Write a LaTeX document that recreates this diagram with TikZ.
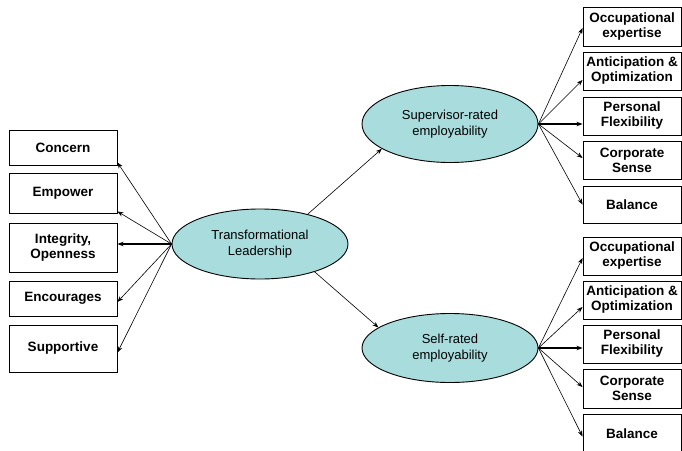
\documentclass[tikz,border=0pt]{standalone}
\usepackage{fontspec}
\setmainfont{Liberation Sans}
\usetikzlibrary{shapes.geometric,arrows.meta}
\definecolor{latentfill}{RGB}{168,220,221}

\begin{document}
\begin{tikzpicture}
[every node/.style={inner sep=0pt},
 ind/.style={rectangle, draw=black, line width=0.9pt, fill=white, align=center, font=\fontsize{13.5}{15}\selectfont\bfseries},
 lftind/.style={ind, minimum width=108pt},
 rgtind/.style={ind, minimum width=98pt},
 lat/.style={ellipse, draw=black, line width=0.9pt, fill=latentfill, minimum width=176pt, align=center, font=\fontsize{13}{16}\selectfont},
 load/.style={line width=0.6pt, -{Stealth[length=6pt, width=4.5pt]}},
 mainload/.style={line width=1.6pt, -{Stealth[length=6pt, width=4.5pt]}}]
\useasboundingbox (0pt, 0pt) rectangle (682pt, -450pt);
% latent variables
\node (trans) [lat, minimum height=70pt] at (260.0pt, -244.0pt) {Transformational\\Leadership};
\node (sup) [lat, minimum height=77pt] at (450.0pt, -124.0pt) {Supervisor-rated\\employability};
\node (self) [lat, minimum height=69pt] at (450.0pt, -348.0pt) {Self-rated\\employability};
% leadership indicators
\node (concern) [lftind, minimum height=35pt] at (63.0pt, -147.5pt) {Concern};
\node (empower) [lftind, minimum height=40pt] at (63.0pt, -193.0pt) {Empower};
\node (integrity) [lftind, minimum height=49pt] at (63.0pt, -247.5pt) {Integrity,\\Openness};
\node (encourages) [lftind, minimum height=35pt] at (63.0pt, -298.5pt) {Encourages};
\node (supportive) [lftind, minimum height=47pt] at (63.0pt, -348.5pt) {Supportive};
% supervisor-rated indicators
\node (occ1) [rgtind, minimum height=39pt] at (632.0pt, -26.5pt) {Occupational\\expertise};
\node (ant1) [rgtind, minimum height=38pt] at (632.0pt, -71.0pt) {Anticipation \&\\Optimization};
\node (per1) [rgtind, minimum height=38pt] at (632.0pt, -116.0pt) {Personal\\Flexibility};
\node (cor1) [rgtind, minimum height=38pt] at (632.0pt, -160.0pt) {Corporate\\Sense};
\node (bal1) [rgtind, minimum height=37pt] at (632.0pt, -204.5pt) {Balance};
% self-rated indicators
\node (occ2) [rgtind, minimum height=38pt] at (632.0pt, -256.0pt) {Occupational\\expertise};
\node (ant2) [rgtind, minimum height=38pt] at (632.0pt, -300.0pt) {Anticipation \&\\Optimization};
\node (per2) [rgtind, minimum height=38pt] at (632.0pt, -344.0pt) {Personal\\Flexibility};
\node (cor2) [rgtind, minimum height=39pt] at (632.0pt, -388.5pt) {Corporate\\Sense};
\node (bal2) [rgtind, minimum height=38pt] at (632.0pt, -433.5pt) {Balance};
% structural paths
\draw [load] (trans.32) to (sup.200);
\draw [load] (trans.333) to (self.164);
% leadership loadings
\draw [load] (trans.west) to ([yshift=3pt]concern.south east);
\draw [load] (trans.west) to ([yshift=2pt]empower.south east);
\draw [mainload] (trans.west) to (integrity.east |- trans.west);
\draw [load] (trans.west) to ([yshift=-3.5pt]encourages.east);
\draw [load] (trans.west) to ([yshift=-4pt]supportive.east);
% supervisor-rated loadings
\draw [load] (sup.east) to ([yshift=-1.5pt]occ1.west);
\draw [load] (sup.east) to ([yshift=-9pt]ant1.west);
\draw [mainload] (sup.east) to (per1.west |- sup.east);
\draw [load] (sup.east) to ([yshift=2pt]cor1.west);
\draw [load] (sup.east) to (bal1.west);
% self-rated loadings
\draw [load] (self.east) to ([yshift=-2pt]occ2.west);
\draw [load] (self.east) to ([yshift=-7pt]ant2.west);
\draw [mainload] (self.east) to (per2.west |- self.east);
\draw [load] (self.east) to ([yshift=1.5pt]cor2.west);
\draw [load] (self.east) to ([yshift=-3pt]bal2.west);
\end{tikzpicture}
\end{document}
